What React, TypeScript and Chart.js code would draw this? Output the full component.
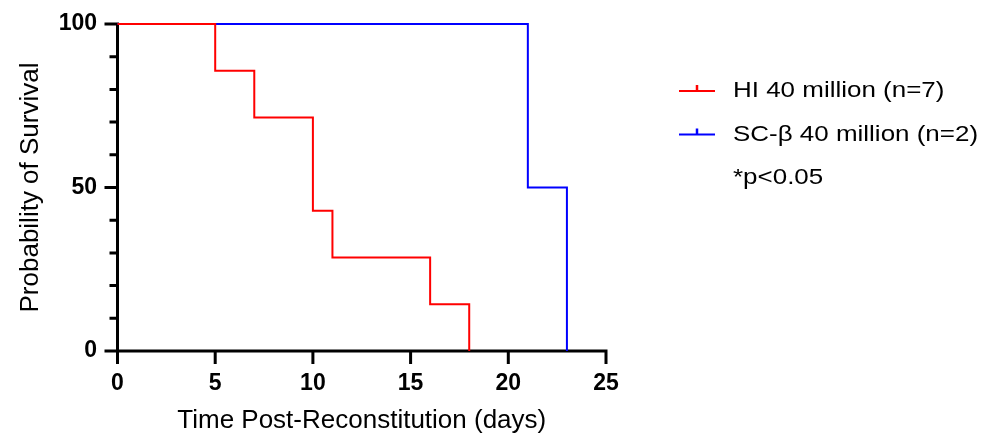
import React, { useEffect, useRef } from "react";
import { Chart, registerables } from "chart.js";

Chart.register(...registerables);

// ---- Data ----
const hiDays = [0, 5, 7, 10, 11, 16, 18];
const hiSurvival = [100, 85.71, 71.43, 42.86, 28.57, 14.29, 0];
const scDays = [0, 21, 23];
const scSurvival = [100, 50, 0];
const seriesLabels = ["HI 40 million (n=7)", "SC-β 40 million (n=2)"];
const seriesColors = ["#ff0000", "#0000ff"];
const noteText = "*p<0.05";
const xTitle = "Time Post-Reconstitution (days)";
const yTitle = "Probability of Survival";
const xTickValues = [0, 5, 10, 15, 20, 25];
const yMajorTicks = [0, 50, 100];
const yMinorTicks = [10, 20, 30, 40, 60, 70, 80, 90];

const FONT = "'Liberation Sans', Arial, sans-serif";

const axesPlugin = {
  id: "kmAxes",
  beforeDatasetsDraw(chart: any) {
    const { ctx } = chart;
    const xs = chart.scales.x;
    const ys = chart.scales.y;
    const x0 = xs.getPixelForValue(xTickValues[0]);
    const x1 = xs.getPixelForValue(xTickValues[xTickValues.length - 1]);
    const y0 = ys.getPixelForValue(yMajorTicks[0]);
    const y1 = ys.getPixelForValue(yMajorTicks[yMajorTicks.length - 1]);
    ctx.save();
    ctx.strokeStyle = "#000";
    ctx.lineWidth = 3;
    ctx.lineCap = "butt";
    ctx.beginPath();
    ctx.moveTo(x0, y1 - 1.5);
    ctx.lineTo(x0, y0 + 1.5);
    ctx.moveTo(x0 - 1.5, y0);
    ctx.lineTo(x1 + 1.5, y0);
    for (const v of yMajorTicks) {
      const p = ys.getPixelForValue(v);
      ctx.moveTo(x0, p);
      ctx.lineTo(x0 - 13, p);
    }
    for (const v of yMinorTicks) {
      const p = ys.getPixelForValue(v);
      ctx.moveTo(x0, p);
      ctx.lineTo(x0 - 8, p);
    }
    for (const v of xTickValues) {
      const p = xs.getPixelForValue(v);
      ctx.moveTo(p, y0);
      ctx.lineTo(p, y0 + 13);
    }
    ctx.stroke();
    ctx.restore();
  },
};

const legendPlugin = {
  id: "kmLegend",
  afterDraw(chart: any) {
    const { ctx } = chart;
    const rowsY = [91, 134.5];
    ctx.save();
    seriesLabels.forEach((label, i) => {
      const y = rowsY[i];
      ctx.strokeStyle = seriesColors[i];
      ctx.lineWidth = 2;
      ctx.beginPath();
      ctx.moveTo(679, y);
      ctx.lineTo(715, y);
      ctx.stroke();
      ctx.lineWidth = 2.5;
      ctx.beginPath();
      ctx.moveTo(697, y);
      ctx.lineTo(697, y - 6);
      ctx.stroke();
      ctx.save();
      ctx.font = `22px ${FONT}`;
      ctx.fillStyle = "#000";
      ctx.textBaseline = "middle";
      ctx.textAlign = "left";
      ctx.translate(733, y);
      ctx.scale(1.18, 1);
      ctx.fillText(label, 0, 0);
      ctx.restore();
    });
    ctx.save();
    ctx.font = `22px ${FONT}`;
    ctx.fillStyle = "#000";
    ctx.textBaseline = "middle";
    ctx.textAlign = "left";
    ctx.translate(733, 178);
    ctx.scale(1.18, 1);
    ctx.fillText(noteText, 0, 0);
    ctx.restore();
    ctx.restore();
  },
};

export default function App() {
  const canvasRef = useRef<HTMLCanvasElement | null>(null);

  useEffect(() => {
    if (!canvasRef.current) return;
    const chart = new Chart(canvasRef.current, {
      type: "line",
      data: {
        datasets: [
          {
            label: seriesLabels[0],
            data: hiDays.map((d, i) => ({ x: d, y: hiSurvival[i] })),
            borderColor: seriesColors[0],
            borderWidth: 2,
            stepped: "before",
            pointRadius: 0,
            fill: false,
            clip: false as any,
          },
          {
            label: seriesLabels[1],
            data: scDays.map((d, i) => ({ x: d, y: scSurvival[i] })),
            borderColor: seriesColors[1],
            borderWidth: 2,
            stepped: "before",
            pointRadius: 0,
            fill: false,
            clip: false as any,
          },
        ],
      },
      options: {
        animation: false,
        responsive: true,
        maintainAspectRatio: false,
        layout: { padding: { left: 0, top: 24, right: 377, bottom: 0 } },
        plugins: {
          legend: { display: false },
          tooltip: { enabled: false },
        },
        scales: {
          x: {
            type: "linear",
            min: 0,
            max: 25,
            afterFit: (s: any) => {
              s.height = 85;
            },
            grid: { display: false, drawTicks: false },
            border: { display: false },
            ticks: {
              stepSize: 5,
              padding: 19,
              color: "#000",
              maxRotation: 0,
              autoSkip: false,
              font: { family: FONT, size: 23, weight: "bold" },
            },
            title: {
              display: true,
              text: xTitle,
              color: "#000",
              font: { family: FONT, size: 26 },
              padding: { top: 0, bottom: 0 },
            },
          },
          y: {
            type: "linear",
            min: 0,
            max: 100,
            afterFit: (s: any) => {
              s.width = 117.5;
            },
            grid: { display: false, drawTicks: true, tickLength: 20.5 },
            border: { display: false },
            ticks: {
              stepSize: 50,
              padding: 0,
              color: "#000",
              font: { family: FONT, size: 23, weight: "bold" },
            },
            title: {
              display: true,
              text: yTitle,
              color: "#000",
              font: { family: FONT, size: 26 },
              padding: { top: 15.4, bottom: 0 },
            },
          },
        },
      },
      plugins: [axesPlugin, legendPlugin],
    });
    return () => chart.destroy();
  }, []);

  return (
    <div style={{ position: "absolute", left: 0, top: 0, width: 983, height: 436 }}>
      <canvas ref={canvasRef} />
    </div>
  );
}
